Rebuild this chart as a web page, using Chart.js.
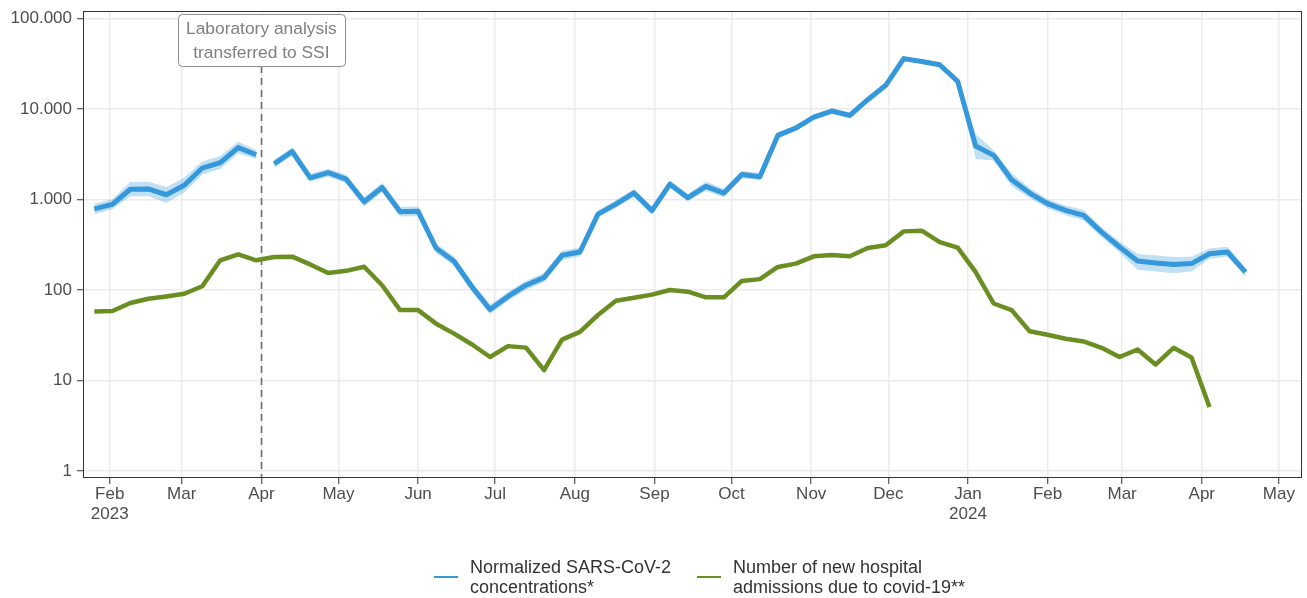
<!DOCTYPE html>
<html>
<head>
<meta charset="utf-8">
<title>SARS-CoV-2 in wastewater and hospital admissions</title>
<script src="https://cdn.jsdelivr.net/npm/chart.js@4.4.1/dist/chart.umd.min.js"></script>
<style>
  html, body { margin: 0; padding: 0; background: #ffffff; }
  #wrap { position: relative; width: 1307px; height: 598px; overflow: hidden; }
  #chart { position: absolute; left: 0; top: 0; }
  .legend-item { position: absolute; top: 558px; font-family: "Liberation Sans", Arial, sans-serif; font-size: 18px; color: #333333; }
  .legend-key { position: absolute; left: 0; top: 18px; width: 24px; height: 2px; }
  .legend-text { position: absolute; left: 36px; top: 0; white-space: nowrap; line-height: 19.5px; }
</style>
</head>
<body>
<div id="wrap">
  <canvas id="chart" width="1307" height="598"></canvas>
  <div class="legend-item" style="left:434px">
    <div class="legend-key" style="background:#3498DB"></div>
    <div class="legend-text">Normalized SARS-CoV-2<br>concentrations*</div>
  </div>
  <div class="legend-item" style="left:697px">
    <div class="legend-key" style="background:#6B8E23"></div>
    <div class="legend-text">Number of new hospital<br>admissions due to covid-19**</div>
  </div>
</div>
<script>
// weekly observation dates
const weekDates = [
  '2023-01-26', '2023-02-02', '2023-02-09', '2023-02-16', '2023-02-23',
  '2023-03-02', '2023-03-09', '2023-03-16', '2023-03-23', '2023-03-30',
  '2023-04-06', '2023-04-13', '2023-04-20', '2023-04-27', '2023-05-04',
  '2023-05-11', '2023-05-18', '2023-05-25', '2023-06-01', '2023-06-08',
  '2023-06-15', '2023-06-22', '2023-06-29', '2023-07-06', '2023-07-13',
  '2023-07-20', '2023-07-27', '2023-08-03', '2023-08-10', '2023-08-17',
  '2023-08-24', '2023-08-31', '2023-09-07', '2023-09-14', '2023-09-21',
  '2023-09-28', '2023-10-05', '2023-10-12', '2023-10-19', '2023-10-26',
  '2023-11-02', '2023-11-09', '2023-11-16', '2023-11-23', '2023-11-30',
  '2023-12-07', '2023-12-14', '2023-12-21', '2023-12-28', '2024-01-04',
  '2024-01-11', '2024-01-18', '2024-01-25', '2024-02-01', '2024-02-08',
  '2024-02-15', '2024-02-22', '2024-02-29', '2024-03-07', '2024-03-14',
  '2024-03-21', '2024-03-28', '2024-04-04', '2024-04-11', '2024-04-18'
];

// normalized SARS-CoV-2 concentrations with uncertainty band
const concentration = [
  790, 885, 1300, 1310, 1130, 1440, 2230, 2560, 3750, 3130,
  2490, 3400, 1740, 1980, 1680, 945, 1360, 735, 741, 290,
  208, 108, 61, 85, 113, 137, 242, 263, 690, 890,
  1185, 755, 1480, 1050, 1400, 1180, 1890, 1790, 5120, 6170,
  8170, 9510, 8510, 12700, 18300, 36100, 33600, 30900, 20200, 3900,
  3080, 1660, 1180, 900, 760, 668, 437, 299, 209, 199,
  191, 196, 252, 263, 158
];
const concentrationLow = [
  690, 780, 1080, 1090, 920, 1190, 1880, 2170, 3220, 2800,
  2250, 3070, 1570, 1790, 1510, 840, 1210, 650, 655, 258,
  185, 95, 54, 76, 101, 122, 215, 236, 630, 810,
  1075, 685, 1345, 955, 1240, 1060, 1720, 1630, 4740, 5710,
  7600, 8850, 7920, 11820, 17030, 34000, 31700, 29200, 18700, 2800,
  2700, 1400, 1040, 800, 670, 585, 385, 260, 168, 160,
  153, 160, 222, 235, 140
];
const concentrationHigh = [
  900, 1010, 1560, 1570, 1380, 1740, 2640, 3020, 4370, 3500,
  2760, 3760, 1930, 2190, 1880, 1060, 1530, 830, 840, 326,
  234, 123, 69, 95, 127, 154, 272, 293, 755, 980,
  1305, 830, 1630, 1155, 1580, 1315, 2080, 1970, 5530, 6660,
  8780, 10220, 9150, 13650, 19670, 38300, 35600, 32700, 21800, 5300,
  3480, 1950, 1340, 1010, 860, 765, 495, 345, 250, 242,
  232, 233, 288, 300, 176
];

// new hospital admissions due to covid-19
const admissions = [
  58, 58.6, 72, 80, 85, 91, 110, 213, 248, 213,
  232, 234, 192, 154, 163, 181, 113, 60, 60, 42.5,
  33, 25, 18.2, 24, 23.1, 13, 28.3, 34.5, 53, 76,
  82, 89, 100, 96, 83, 83, 126, 132, 180, 196,
  236, 244, 236, 291, 312, 445, 453, 339, 294, 158,
  71, 60, 35, 32, 29, 27, 23, 18.2, 22, 15,
  23, 18, 5.1
];

const monthTicks = [
  '2023-02-01', '2023-03-01', '2023-04-01', '2023-05-01', '2023-06-01',
  '2023-07-01', '2023-08-01', '2023-09-01', '2023-10-01', '2023-11-01',
  '2023-12-01', '2024-01-01', '2024-02-01', '2024-03-01', '2024-04-01',
  '2024-05-01'
];
const monthLabels = [
  ['Feb', '2023'], 'Mar', 'Apr', 'May', 'Jun', 'Jul', 'Aug', 'Sep', 'Oct',
  'Nov', 'Dec', ['Jan', '2024'], 'Feb', 'Mar', 'Apr', 'May'
];
const yTicks = [1, 10, 100, 1000, 10000, 100000];
const xLimits = ['2023-01-21T14:00', '2024-05-10T00:00'];
const yLimits = [0.837, 121300];

const labTransferDate = '2023-04-01';
const labTransferText = ['Laboratory analysis', 'transferred to SSI'];

const FONT = '"Liberation Sans", Arial, sans-serif';

function toDay(s) {
  const iso = s.length === 10 ? s + 'T00:00:00Z' : s + ':00Z';
  return (Date.parse(iso) - Date.parse('2023-01-01T00:00:00Z')) / 864e5;
}

function formatThousands(v) {
  return String(Math.round(v)).replace(/\B(?=(\d{3})+(?!\d))/g, '.');
}

const xs = weekDates.map(toDay);
const labDay = toDay(labTransferDate);
// segment that crosses the lab transfer is not drawn
const gapIndex = xs.findIndex(d => d > labDay) - 1;

function points(values) {
  return values.map((v, i) => ({ x: xs[i], y: v }));
}

const panelExtras = {
  id: 'panelExtras',
  beforeDatasetsDraw(chart) {
    const { ctx, chartArea, scales } = chart;
    const x = Math.round(scales.x.getPixelForValue(labDay)) + 0.5;
    ctx.save();
    ctx.strokeStyle = '#6e6e6e';
    ctx.lineWidth = 1.6;
    ctx.setLineDash([7, 5]);
    ctx.beginPath();
    ctx.moveTo(x, 66);
    ctx.lineTo(x, chartArea.bottom);
    ctx.stroke();
    ctx.restore();
  },
  afterDraw(chart) {
    const { ctx, chartArea, scales } = chart;
    ctx.save();
    // panel border
    ctx.strokeStyle = '#333333';
    ctx.lineWidth = 1;
    ctx.strokeRect(chartArea.left + 0.5, chartArea.top + 0.5,
      chartArea.right - chartArea.left - 1, chartArea.bottom - chartArea.top - 1);

    // annotation label
    const cx = scales.x.getPixelForValue(labDay);
    ctx.font = '17.4px ' + FONT;
    const w = Math.max(...labTransferText.map(t => ctx.measureText(t).width)) + 16;
    const h = 52;
    const top = 14;
    ctx.beginPath();
    ctx.roundRect(Math.round(cx - w / 2) + 0.5, top + 0.5, Math.round(w), h, 4);
    ctx.fillStyle = '#ffffff';
    ctx.fill();
    ctx.strokeStyle = '#8c8c8c';
    ctx.lineWidth = 1;
    ctx.stroke();
    ctx.fillStyle = '#7f7f7f';
    ctx.textAlign = 'center';
    ctx.textBaseline = 'middle';
    labTransferText.forEach((t, i) => ctx.fillText(t, cx, top + 15.5 + i * 24));
    ctx.restore();
  }
};

const ctx = document.getElementById('chart').getContext('2d');
const chart = new Chart(ctx, {
  type: 'line',
  data: {
    datasets: [
      {
        label: 'Normalized SARS-CoV-2 concentrations*',
        data: points(concentration),
        borderColor: '#3498DB',
        borderWidth: 5,
        borderJoinStyle: 'round',
        pointRadius: 0,
        fill: false,
        segment: {
          borderColor: c => c.p0DataIndex === gapIndex ? 'rgba(0,0,0,0)' : undefined
        }
      },
      {
        label: 'Number of new hospital admissions due to covid-19**',
        data: points(admissions),
        borderColor: '#6B8E23',
        borderWidth: 4.5,
        borderJoinStyle: 'round',
        pointRadius: 0,
        fill: false
      },
      {
        label: 'upper',
        data: points(concentrationHigh),
        borderWidth: 0,
        borderColor: 'rgba(0,0,0,0)',
        backgroundColor: 'rgba(52,152,219,0.3)',
        pointRadius: 0,
        fill: '+1',
        segment: {
          backgroundColor: c => c.p0DataIndex === gapIndex ? 'rgba(0,0,0,0)' : undefined
        }
      },
      {
        label: 'lower',
        data: points(concentrationLow),
        borderWidth: 0,
        borderColor: 'rgba(0,0,0,0)',
        pointRadius: 0,
        fill: false
      }
    ]
  },
  options: {
    responsive: false,
    animation: false,
    events: [],
    layout: { padding: { top: 11, right: 5, bottom: 60, left: 0 } },
    plugins: {
      legend: { display: false },
      tooltip: { enabled: false }
    },
    scales: {
      x: {
        type: 'linear',
        min: toDay(xLimits[0]),
        max: toDay(xLimits[1]),
        afterBuildTicks: s => { s.ticks = monthTicks.map(d => ({ value: toDay(d) })); },
        afterFit: s => { s.height = 60; s.paddingLeft = 0; s.paddingRight = 0; },
        grid: { color: '#EBEBEB', lineWidth: 1.5, tickColor: '#333333', tickLength: 6, tickWidth: 1 },
        border: { display: false },
        ticks: {
          autoSkip: false,
          maxRotation: 0,
          padding: 1,
          color: '#4D4D4D',
          font: { family: FONT, size: 17, lineHeight: 1.15 },
          callback: (v, i) => monthLabels[i]
        }
      },
      y: {
        type: 'logarithmic',
        min: yLimits[0],
        max: yLimits[1],
        afterBuildTicks: s => { s.ticks = yTicks.map(v => ({ value: v })); },
        afterFit: s => { s.width = 83; s.paddingTop = 0; s.paddingBottom = 0; },
        grid: { color: '#EBEBEB', lineWidth: 1.5, tickColor: '#333333', tickLength: 6, tickWidth: 1 },
        border: { display: false },
        ticks: {
          padding: 5,
          color: '#4D4D4D',
          font: { family: FONT, size: 17 },
          callback: v => formatThousands(v)
        }
      }
    }
  },
  plugins: [panelExtras]
});
</script>
</body>
</html>
